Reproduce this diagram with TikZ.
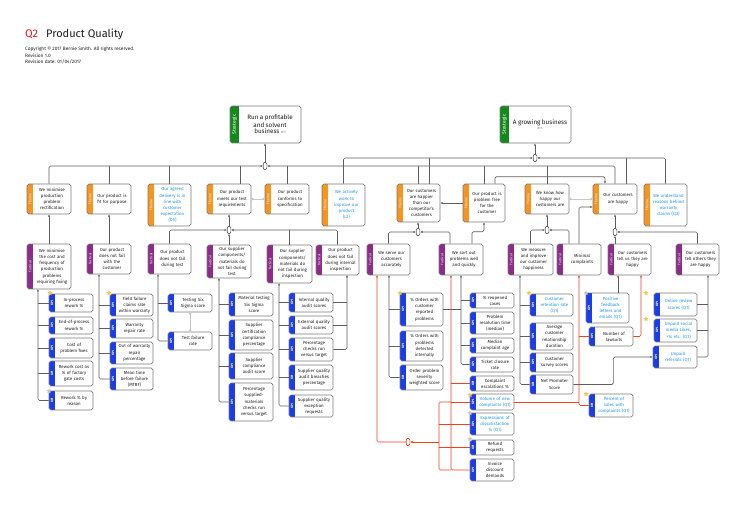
\documentclass[tikz,border=0pt]{standalone}
\usepackage{fontspec}
\setmainfont{Fira Sans}
\usetikzlibrary{arrows.meta,shapes.geometric}

\definecolor{tabtheme}{HTML}{F7941D}
\definecolor{tabtact}{HTML}{8E2A8C}
\definecolor{tabstrat}{HTML}{13891A}
\definecolor{tabkpi}{HTML}{1A3CEB}
\definecolor{qblue}{HTML}{1E96F0}
\definecolor{txtgray}{HTML}{1E1E1E}
\definecolor{cardgray}{HTML}{7A7A7A}
\definecolor{linegray}{HTML}{5E5E5E}
\definecolor{linered}{HTML}{F0401E}
\definecolor{lightgray}{HTML}{C8C8C8}
\definecolor{staryellow}{HTML}{F8C54A}
\definecolor{qred}{HTML}{D7191C}

\newcommand{\tabfont}{\fontsize{3.4}{3.4}\selectfont}
\newcommand{\kpifont}{\fontsize{3.2}{3.2}\selectfont\bfseries}
\newcommand{\stratfont}{\fontsize{5}{5}\selectfont}

% card: name, x1, y1, x2, y2, tab colour, tab label, tab width, text
\newcommand{\card}[9]{%
  \node[card, minimum width={(#4-#2)*1pt}, minimum height={(#5-#3)*1pt},
    path picture={
      \fill[#6, sharp corners] (path picture bounding box.north west) rectangle ([xshift=#8]path picture bounding box.south west);
      \node[text=white, inner sep=0, rotate=90] at ([xshift=#8/2]path picture bounding box.west) {#7};
    }] (#1) at ({(#2+#4)/2},{(#3+#5)/2}) {};
  \node[cardtext, text width={(#4-#2)*1pt-#8-1.5pt}] (#1t) at ([xshift=#8/2]#1.center) {#9};
}
\newcommand{\stratcard}[6]{\card{#1}{#2}{#3}{#4}{#5}{tabstrat}{\stratfont Strategic}{9pt}{#6}}
\newcommand{\themecard}[6]{\card{#1}{#2}{#3}{#4}{#5}{tabtheme}{\tabfont Theme}{6pt}{#6}}
\newcommand{\tactcard}[6]{\card{#1}{#2}{#3}{#4}{#5}{tabtact}{\tabfont Tactical}{6pt}{#6}}
\newcommand{\kpicard}[6]{\card{#1}{#2}{#3}{#4}{#5}{tabkpi}{\kpifont KPI}{6pt}{#6}}

\begin{document}
\begin{tikzpicture}[x=1pt, y=-1pt, >={Latex[length=2.4pt,width=2.2pt]},
    card/.style={draw=cardgray, line width=0.65pt, rounded corners=1.8pt, fill=white, inner sep=0},
    cardtext/.style={align=center, inner sep=0, text=txtgray, font=\fontsize{4.4}{6.2}\selectfont},
    conn/.style={draw=linegray, line width=0.65pt, rounded corners=1.5pt},
    redconn/.style={draw=linered, line width=0.65pt, rounded corners=1.5pt},
    light/.style={draw=lightgray, line width=1pt, {Circle[open,length=2.4pt]}-{Circle[open,length=2.4pt]}},
    junc/.style={draw=linegray, fill=white, line width=0.6pt, rounded corners=1.2pt, minimum width=3.6pt, minimum height=7pt, inner sep=0},
    qstar/.style={star, star points=5, star point ratio=2.2, minimum size=5.5pt, inner sep=0}]
    \useasboundingbox (0,0) rectangle (743,505);

    % header
    \node[anchor=west, inner sep=0, text=qred, font=\fontsize{11}{11}\selectfont] (qnum) at (25,34) {Q2};
    \node[anchor=west, inner sep=0, text=txtgray, font=\fontsize{11}{11}\selectfont] (title) at (46,34) {Product Quality};
    \node[anchor=north west, inner sep=0, align=left, text=txtgray, font=\fontsize{4.8}{6.4}\selectfont] (meta) at (25,47)
        {Copyright © 2017 Bernie Smith. All rights reserved.\\Revision 1.0\\Revision date: 01/04/2017};

    % strategic
    \stratcard{sprofit}{230}{106}{301}{143}{\fontsize{6.3}{7.8}\selectfont Run a profitable\\and solvent\\business {\fontsize{3}{3}\selectfont\color{gray}BFS}}
    \stratcard{sgrowth}{500}{106}{571}{143}{\fontsize{6.3}{6.5}\selectfont A growing business\\[-1pt]{\fontsize{3}{3}\selectfont\color{gray}BFS}}

    % themes
    \themecard{t1}{27}{184}{71}{214}{We minimise\\production\\problem\\rectification}
    \themecard{t2}{87}{184}{131}{214}{Our product is\\fit for purpose}
    \themecard{t3}{148}{184}{191}{226}{\color{qblue}Our agreed\\delivery is in\\line with\\customer\\expectation\\(D5)}
    \themecard{t4}{207}{184}{251}{214}{Our product\\meets our test\\requirements}
    \themecard{t5}{265}{184}{309}{214}{Our product\\conforms to\\specification}
    \themecard{t6}{322}{184}{365}{226}{\color{qblue}We actively\\work to\\improve our\\product\\(L2)}
    \themecard{t7}{397}{184}{440}{222}{Our customers\\are happier\\than our\\competitor's\\customers}
    \themecard{t8}{463}{184}{505}{222}{Our product is\\problem free\\for the\\customer}
    \themecard{t9}{525}{184}{569}{214}{We know how\\happy our\\customers are}
    \themecard{t10}{593}{184}{637}{214}{Our customers\\are happy}
    \themecard{t11}{644}{184}{687}{226}{\color{qblue}We understand\\reasons behind\\warranty\\claims (Q3)}

    % tacticals
    \tactcard{tc1}{27}{244}{71}{289}{We minimise\\the cost and\\frequency of\\production\\problems\\requiring fixing}
    \tactcard{tc2}{87}{244}{131}{274}{Our product\\does not fail\\with the\\customer}
    \tactcard{tc3}{148}{244}{191}{274}{Our product\\does not fail\\during test}
    \tactcard{tc4}{207}{245}{251}{278}{Our supplier\\components/\\materials do\\not fail during\\test}
    \tactcard{tc5}{267}{245}{312}{283}{Our supplier\\components/\\materials do\\not fail during\\inspection}
    \tactcard{tc6}{316}{245}{359}{275}{Our product\\does not fail\\during internal\\inspection}
    \tactcard{tc7}{367}{244}{410}{275}{We serve our\\customers\\accurately}
    \tactcard{tc8}{439}{244}{483}{275}{We sort out\\problems well\\and quickly}
    \tactcard{tc9}{508}{244}{553}{275}{We measure\\and improve\\our customer\\happiness}
    \tactcard{tc10}{557}{244}{601}{275}{Minimal\\complaints}
    \tactcard{tc11}{608}{244}{651}{275}{Our customers\\tell us they are\\happy}
    \tactcard{tc12}{676}{244}{719}{275}{Our customers\\tell others they\\are happy}

    % kpis
    \kpicard{k1a}{49}{294}{93}{312}{In-process\\rework \%}
    \kpicard{k1b}{49}{317}{93}{334}{End-of-process\\rework \%}
    \kpicard{k1c}{49}{338}{93}{358}{Cost of\\problem fixes}
    \kpicard{k1d}{49}{361}{93}{386}{Rework cost as\\\% of factory\\gate costs}
    \kpicard{k1e}{49}{391}{93}{410}{Rework \% by\\reason}
    \kpicard{k2a}{110}{294}{153}{316}{Field failure\\claims rate\\within warranty}
    \kpicard{k2b}{110}{319}{153}{338}{Warranty\\repair rate}
    \kpicard{k2c}{110}{342}{153}{364}{Out of warranty\\repair\\percentage}
    \kpicard{k2d}{110}{368}{153}{390}{Mean time\\before failure\\(MTBF)}
    \kpicard{k3a}{168}{294}{212}{312}{Testing Six\\Sigma score}
    \kpicard{k3b}{168}{332}{212}{350}{Test failure\\rate}
    \kpicard{k4a}{229}{293}{273}{316}{Material testing\\Six Sigma\\score}
    \kpicard{k4b}{229}{320}{273}{350}{Supplier\\certification\\compliance\\percentage}
    \kpicard{k4c}{229}{353}{273}{379}{Supplier\\compliance\\audit score}
    \kpicard{k4d}{229}{383}{273}{421}{Percentage\\supplied-\\materials\\checks run\\versus target}
    \kpicard{k5a}{289}{293}{333}{312}{Internal quality\\audit scores}
    \kpicard{k5b}{289}{316}{333}{334}{External quality\\audit scores}
    \kpicard{k5c}{289}{338}{333}{361}{Percentage\\checks run\\versus target}
    \kpicard{k5d}{289}{365}{333}{390}{Supplier quality\\audit breaches\\percentage}
    \kpicard{k5e}{289}{395}{333}{417}{Supplier quality\\exception\\requests}
    \kpicard{k7a}{400}{293}{443}{326}{\% Orders with\\customer\\reported\\problems}
    \kpicard{k7b}{400}{331}{443}{361}{\% Orders with\\problems\\detected\\internally}
    \kpicard{k7c}{400}{365}{443}{390}{Order problem\\severity\\weighted score}
    \kpicard{k8a}{470}{293}{514}{308}{\% reopened\\cases}
    \kpicard{k8b}{470}{312}{514}{334}{Problem\\resolution time\\(median)}
    \kpicard{k8c}{470}{338}{514}{353}{Median\\complaint age}
    \kpicard{k8d}{470}{357}{514}{372}{Ticket closure\\rate}
    \kpicard{k8e}{470}{376}{514}{391}{Complaint\\escalations \%}
    \kpicard{k8f}{470}{394}{514}{410}{\color{qblue}Volume of new\\complaints (Q1)}
    \kpicard{k8g}{470}{413}{514}{435}{\color{qblue}Expressions of\\dissatisfaction\\\% (Q1)}
    \kpicard{k8h}{470}{440}{514}{455}{Refund\\requests}
    \kpicard{k8i}{470}{459}{514}{481}{Invoice\\discount\\demands}
    \kpicard{k9a}{530}{294}{573}{316}{\color{qblue}Customer\\retention rate\\(Q1)}
    \kpicard{k9b}{530}{323}{573}{350}{Average\\customer\\relationship\\duration}
    \kpicard{k9c}{530}{353}{573}{372}{Customer\\survey scores}
    \kpicard{k9d}{530}{375}{573}{394}{Net Promoter\\Score}
    \kpicard{k10a}{589}{327}{633}{346}{Number of\\lawsuits}
    \kpicard{k10b}{589}{394}{633}{417}{\color{qblue}Percent of\\sales with\\complaints (Q1)}
    \kpicard{k11a}{586}{293}{629}{323}{\color{qblue}Positive\\feedback\\letters and\\emails (Q1)}
    \kpicard{k12a}{654}{293}{697}{316}{\color{qblue}Online review\\scores (Q1)}
    \kpicard{k12b}{654}{319}{697}{342}{\color{qblue}Unpaid social\\media Likes,\\+1s etc. (Q1)}
    \kpicard{k12c}{653}{346}{697}{368}{\color{qblue}Unpaid\\referrals (Q1)}

    % junctions
    \node[junc] (j1) at (265,166) {};
    \node[junc] (j2) at (535,158) {};
    \node[junc] (j3) at (229,230) {};
    \node[junc] (j4) at (418,232) {};
    \node[junc] (j5) at (547,230) {};
    \node[junc] (j6) at (615,232) {};
    \node[junc, draw=linered] (j7) at (408,442) {};

    % spine ends
    \coordinate (sp1) at (38,289);
    \coordinate (sp2) at (99,274);
    \coordinate (sp3) at (158,274);
    \coordinate (sp4) at (219,278);
    \coordinate (sp5) at (279,283);
    \coordinate (sp6) at (347,275);
    \coordinate (sp7) at (389,275);
    \coordinate (rs7) at (377,275);
    \coordinate (sp8) at (461,275);
    \coordinate (rs8) at (451,275);
    \coordinate (rj) at (439,442);
    \coordinate (sp9) at (520,275);
    \coordinate (rs10) at (579,275);
    \coordinate (sp11) at (618,275);
    \coordinate (rs11) at (641,275);
    \coordinate (sp12) at (708,275);

    % themes to strategic
    \draw[conn,->] (j1) -- (j1 |- sprofit.south);
    \draw[conn,->] (t1.north) |- (j1.west);
    \draw[conn] (t2.north) -- (t2.north |- j1);
    \draw[conn] (t3.north) -- (t3.north |- j1);
    \draw[conn] ([xshift=11pt]t4.north) -- ([xshift=11pt]t4.north |- j1);
    \draw[conn,->] (t10.north) |- (j1.east);
    \draw[conn] (t5.north) -- (t5.north |- j1);
    \draw[conn] (t7.north) -- (t7.north |- j1);
    \draw[conn] (t8.north) -- (t8.north |- j1);
    \draw[conn] (t9.north) -- (t9.north |- j1);
    \draw[conn,->] (j2) -- (j2 |- sgrowth.south);
    \draw[conn,->] (t6.north) |- (j2.west);
    \draw[conn] ([xshift=10.5pt]t7.north) -- ([xshift=10.5pt]t7.north |- j2);
    \draw[conn,->] (t11.north) |- (j2.east);
    \draw[conn] ([xshift=11pt]t10.north) -- ([xshift=11pt]t10.north |- j2);
    \draw[conn,->] ([xshift=11pt]t8.north) -- ++(0,-7) -| ([xshift=-10pt]t10.north);
    \draw[conn,->] (t8.west) -- (t7.east);
    \draw[light] (t4.east) -- (t5.west);
    \draw[light] (t9.east) -- (t10.west);

    % tacticals to themes
    \draw[conn,->] (tc1.north) -- (t1.south);
    \draw[conn,->] (tc2.north) -- (t2.south);
    \draw[conn,->] (j3) -- (j3 |- t4.south);
    \draw[conn,->] (tc3.north) |- (j3.west);
    \draw[conn,->] (tc4.north) -- (j3.south);
    \draw[conn,->] (tc6.north) |- (j3.east);
    \draw[conn] (tc5.north) -- (tc5.north |- j3);
    \draw[conn,->] (j4) -- (j4 |- t7.south);
    \draw[conn,->] (tc7.north) |- (j4.west);
    \draw[conn,->] ([xshift=-11pt]tc8.north) |- (j4.east);
    \draw[conn,->] ([xshift=11pt]tc8.north) -- ++(0,-12) -| (t8.south);
    \draw[conn,->] (j5) -- (j5 |- t9.south);
    \draw[conn,->] (tc9.north) |- (j5.west);
    \draw[conn,->] ([xshift=-10pt]tc10.north) |- (j5.east);
    \draw[conn,->] (tc10.north) |- ([yshift=-8pt]t10.west);
    \draw[conn,->] (j6) -- (j6 |- t10.south);
    \draw[conn,->] (tc11.north -| j6) -- (j6.south);
    \draw[conn,->] (tc12.north) |- (j6.east);

    % kpis to tacticals
    \draw[conn,->] (k1e.west) -| (sp1);
    \foreach \k in {k1a,k1b,k1c,k1d} \draw[conn] (\k.west) -- (\k.west -| sp1);
    \draw[conn,->] (k2d.west) -| (sp2);
    \foreach \k in {k2a,k2b,k2c} \draw[conn] (\k.west) -- (\k.west -| sp2);
    \draw[conn,->] (k3b.west) -| (sp3);
    \draw[conn] (k3a.west) -- (k3a.west -| sp3);
    \draw[light] (k3a.south) -- (k3b.north);
    \draw[conn,->] (k4d.west) -| (sp4);
    \foreach \k in {k4a,k4b,k4c} \draw[conn] (\k.west) -- (\k.west -| sp4);
    \draw[conn,->] (k5e.west) -| (sp5);
    \foreach \k in {k5a,k5b,k5c,k5d} \draw[conn] (\k.west) -- (\k.west -| sp5);
    \draw[conn,->] (k5c.east) -| (sp6);
    \foreach \k in {k5a,k5b} \draw[conn] (\k.east) -- (\k.east -| sp6);
    \draw[conn,->] (k7c.west) -| (sp7);
    \foreach \k in {k7a,k7b} \draw[conn] (\k.west) -- (\k.west -| sp7);
    \draw[conn,->] (k8d.west) -| (sp8);
    \foreach \k in {k8a,k8b,k8c} \draw[conn] (\k.west) -- (\k.west -| sp8);
    \draw[conn] (k7a.east) -- (k7a.east -| sp8);
    \draw[conn,->] (k9d.west) -| (sp9);
    \foreach \k in {k9a,k9b,k9c} \draw[conn] (\k.west) -- (\k.west -| sp9);
    \draw[conn,->] (k9d.east) -- ++(40,0) |- (k12c.west);
    \draw[conn,->] (k11a.north -| sp11) -- (sp11);
    \draw[conn,->] (k12c.east) -| (sp12);
    \foreach \k in {k12a,k12b} \draw[conn] (\k.east) -- (\k.east -| sp12);

    % complaint links
    \draw[redconn,->] (k8i.west) -| (rs8);
    \foreach \k in {k8e,k8f,k8g,k8h} \draw[redconn] (\k.west) -- (\k.west -| rs8);
    \draw[redconn] (k8f.west -| rs8) -| (rj) |- (k8i.west -| rs8);
    \foreach \k in {k8g,k8h} \draw[redconn] (\k.west -| rs8) -- (\k.west -| rj);
    \draw[redconn,->] (rj) -- (j7.east);
    \draw[redconn,->] (j7.west) -| (rs7);
    \draw[redconn] (k8f.east) -- (k8f.east -| rs10);
    \draw[redconn,->] (k10b.west) -| (rs10);
    \draw[redconn] (k10a.west) -- (k10a.west -| rs10);
    \draw[redconn,->] (k10a.east) -| (rs11);

    % stars
    \node[qstar, fill=staryellow] (st1) at (50,293) {};
    \node[qstar, fill=lightgray] (st2) at (49,391) {};
    \node[qstar, fill=staryellow] (st3) at (109,293) {};
    \node[qstar, fill=staryellow] (st4) at (400,293) {};
    \node[qstar, fill=staryellow] (st5) at (470,395) {};
    \node[qstar, fill=lightgray] (st6) at (470,413) {};
    \node[qstar, fill=lightgray] (st7) at (470,439) {};
    \node[qstar, fill=staryellow] (st8) at (529,293) {};
    \node[qstar, fill=lightgray] (st9) at (586,293) {};
    \node[qstar, fill=staryellow] (st10) at (646,293) {};
    \node[qstar, fill=staryellow] (st11) at (646,319) {};
    \node[qstar, fill=staryellow] (st12) at (586,394) {};
\end{tikzpicture}
\end{document}
